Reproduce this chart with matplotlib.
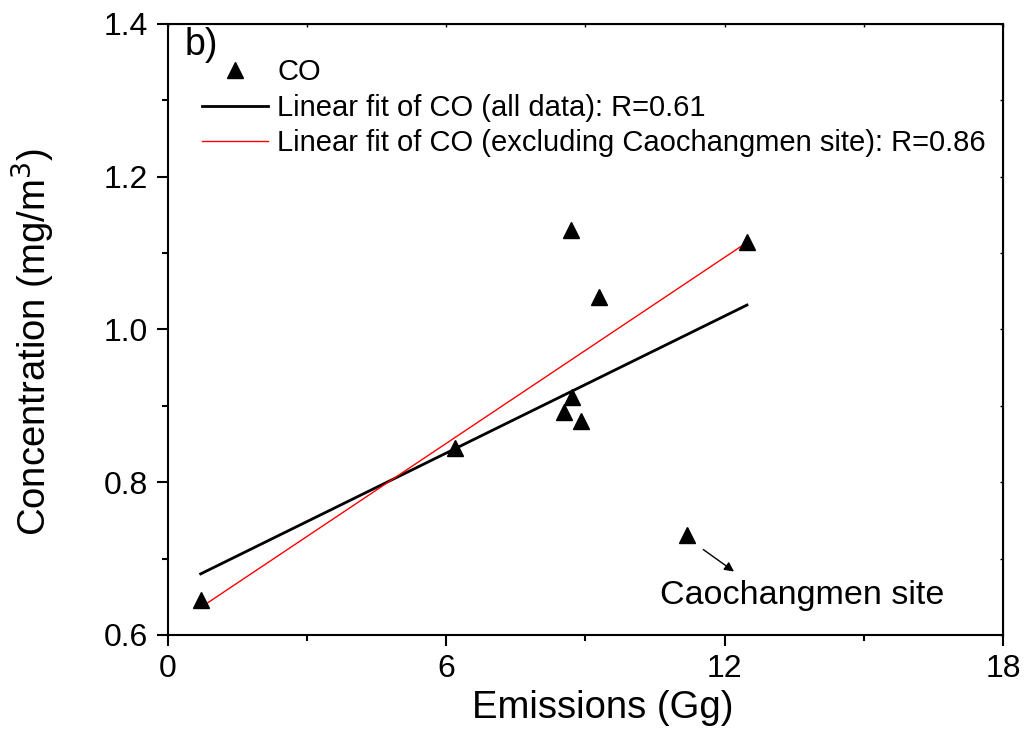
import matplotlib
matplotlib.use('Agg')
import matplotlib.pyplot as plt
from matplotlib.ticker import MultipleLocator

plt.rcParams['font.family'] = ['Liberation Sans', 'DejaVu Sans']

# CO emissions (Gg) vs concentration (mg/m3)
emissions = [0.71, 6.19, 8.53, 8.70, 8.90, 8.69, 9.29, 11.18, 12.48]
concentration = [0.646, 0.845, 0.892, 0.912, 0.880, 1.130, 1.042, 0.731, 1.115]

# fit line end points
fit_all_x = [0.71, 12.48]
fit_all_y = [0.680, 1.032]
fit_excl_x = [0.71, 12.48]
fit_excl_y = [0.636, 1.114]

site_point = (11.49, 0.714)
site_arrow_end = (12.25, 0.681)
site_label = 'Caochangmen site'


def main():
    fig = plt.figure(figsize=(10.27, 7.40), dpi=100)
    ax = fig.add_axes([0.1633, 0.1419, 0.8135, 0.8257])

    ax.plot(emissions, concentration, linestyle='none', marker='^',
            markersize=11.5, color='black', label='CO', zorder=3)
    ax.plot(fit_all_x, fit_all_y, color='black', linewidth=2,
            label='Linear fit of CO (all data): R=0.61')
    ax.plot(fit_excl_x, fit_excl_y, color='red', linewidth=1,
            label='Linear fit of CO (excluding Caochangmen site): R=0.86')

    ax.annotate('', xy=site_arrow_end, xytext=site_point,
                arrowprops=dict(arrowstyle='-|>', color='black', lw=1,
                                mutation_scale=14))
    ax.text(10.61, 0.641, site_label, fontsize=24.5)
    ax.text(0.0207, 0.995, 'b)', transform=ax.transAxes, fontsize=27,
            va='top', ha='left')

    ax.set_xlim(0, 18)
    ax.set_ylim(0.6, 1.4)
    ax.xaxis.set_major_locator(MultipleLocator(6))
    ax.xaxis.set_minor_locator(MultipleLocator(3))
    ax.yaxis.set_major_locator(MultipleLocator(0.2))
    ax.yaxis.set_minor_locator(MultipleLocator(0.1))
    ax.yaxis.set_major_formatter(plt.FormatStrFormatter('%.1f'))

    ax.tick_params(which='major', direction='out', length=8, width=1.5,
                   labelsize=23, pad=6)
    ax.tick_params(which='minor', direction='out', length=4.5, width=1.5)
    ax.tick_params(which='both', top=False, right=False)
    for s in ax.spines.values():
        s.set_linewidth(1.5)

    # small inward ticks on the top and right spines
    ax2 = ax.secondary_xaxis('top')
    ax2.xaxis.set_major_locator(MultipleLocator(3))
    ax2.tick_params(direction='in', length=2, width=1, labeltop=False)
    ax3 = ax.secondary_yaxis('right')
    ax3.yaxis.set_major_locator(MultipleLocator(0.1))
    ax3.tick_params(direction='in', length=2, width=1, labelright=False)

    ax.set_xlabel('Emissions (Gg)', fontsize=27.5)
    ax.set_ylabel('Concentration (mg/m$^3$)', fontsize=27.5)
    ax.xaxis.set_label_coords(0.521, -0.09)
    ax.yaxis.set_label_coords(-0.133, 0.48)

    ax.legend(loc='upper left', bbox_to_anchor=(0.041, 0.944), frameon=False,
              fontsize=21, handlelength=2.27, handletextpad=0.31,
              labelspacing=0.26, borderaxespad=0, borderpad=0)

    plt.savefig('out.png', dpi=100)


if __name__ == '__main__':
    main()
